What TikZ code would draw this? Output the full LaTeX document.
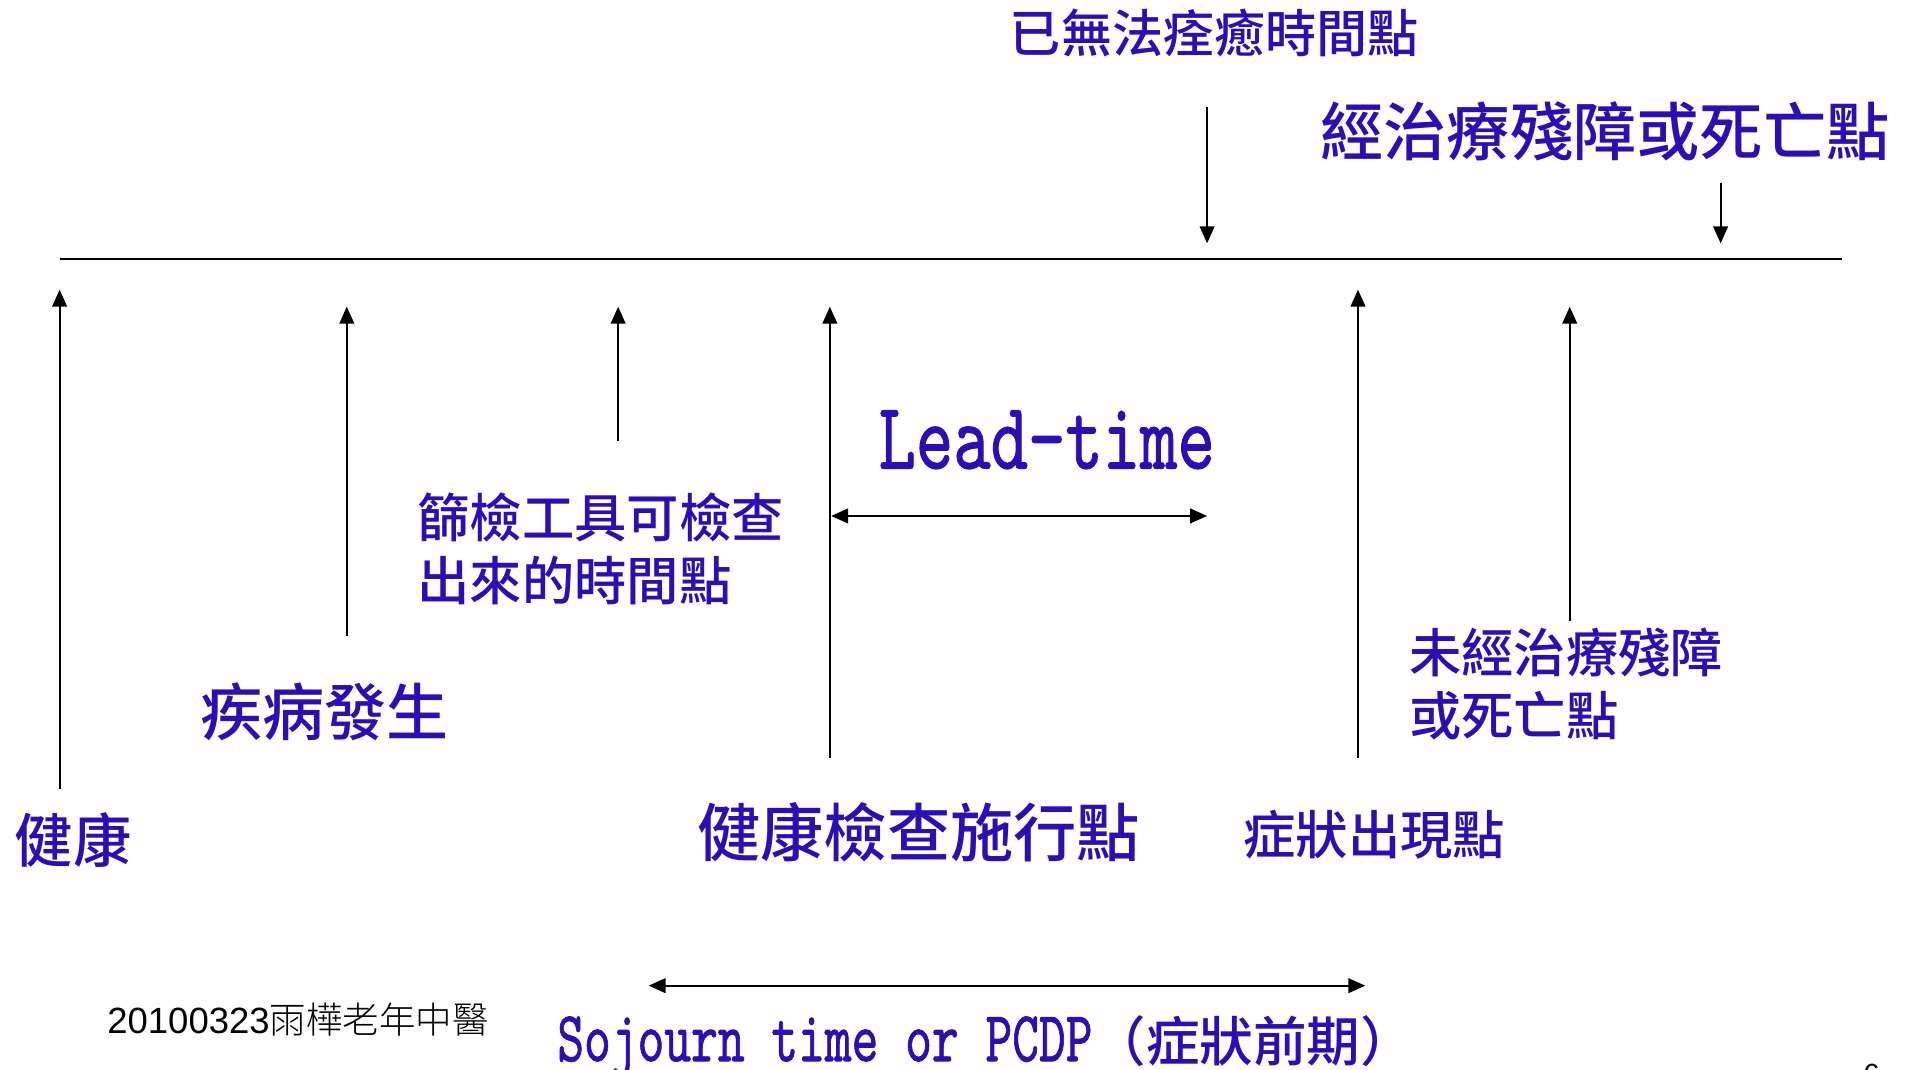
\documentclass[tikz,border=0pt]{standalone}
\usepackage{fontspec}
\usepackage{graphicx}
\usetikzlibrary{arrows.meta}
\setmainfont{Liberation Sans}
\newfontfamily\cjk{Noto Sans CJK TC}[UprightFont={* Medium},BoldFont={* Bold}]
\newfontfamily\cjkl{Noto Sans CJK TC}[UprightFont={* Light}]
\newfontfamily\lmono{lmmono10-regular.otf}[FakeBold=1.2]
\definecolor{tblue}{RGB}{40,16,180}
\tikzset{
  axisline/.style={line width=1.3pt},
  uparrow/.style={line width=1.8pt,-{Triangle[length=14pt,width=12pt]}},
  dblarrow/.style={line width=1.8pt,{Triangle[length=14pt,width=12pt]}-{Triangle[length=14pt,width=12pt]}},
  lbl/.style={inner sep=0pt,outer sep=0pt,text=tblue,anchor=west,align=left},
}
\newcommand{\cjkfs}[2]{\cjk\fontsize{#1}{#2}\selectfont}
\begin{document}
\begin{tikzpicture}[x=1pt,y=-1pt]
\useasboundingbox (0,0) rectangle (1568,879);
% main time line
\coordinate (L0) at (49,213);
\coordinate (L1) at (1514,213);
\draw[axisline] (L0) -- (L1);

% upward arrows
\coordinate (a1s) at (49,648);   \coordinate (a1e) at (49,238);
\coordinate (a2s) at (285,523);  \coordinate (a2e) at (285,252);
\coordinate (a3s) at (508,362);  \coordinate (a3e) at (508,252);
\coordinate (a4s) at (682,623);  \coordinate (a4e) at (682,252);
\coordinate (a5s) at (1116,623); \coordinate (a5e) at (1116,238);
\coordinate (a6s) at (1290,510); \coordinate (a6e) at (1290,252);
\foreach \i in {1,...,6} \draw[uparrow] (a\i s) -- (a\i e);

% downward arrows
\coordinate (d1s) at (992,88);   \coordinate (d1e) at (992,200);
\coordinate (d2s) at (1414,150); \coordinate (d2e) at (1414,200);
\draw[uparrow] (d1s) -- (d1e);
\draw[uparrow] (d2s) -- (d2e);

% double arrows
\coordinate (lt0) at (683,424); \coordinate (lt1) at (992,424);
\draw[dblarrow] (lt0) -- (lt1);
\coordinate (sj0) at (533,810); \coordinate (sj1) at (1122,810);
\draw[dblarrow] (sj0) -- (sj1);

% labels
\node[lbl,font=\cjkfs{48}{56}] (health) at (12,690) {健康};
\node[lbl,font=\cjkfs{51}{58}] (onset) at (165,585) {疾病發生};
\node[lbl,font=\cjkfs{43}{52}] (detect) at (343,451) {篩檢工具可檢查\\出來的時間點};
\node[lbl,font=\cjkfs{52}{60}] (exam) at (573,684) {健康檢查施行點};
\node[lbl,font=\cjkfs{43}{50}] (symp) at (1022,686) {症狀出現點};
\node[lbl,font=\cjkfs{43}{52}] (untreated) at (1158,562) {未經治療殘障\\或死亡點};
\node[lbl,font=\cjkfs{42}{50}] (nocure) at (830,27) {已無法痊癒時間點};
\node[lbl,font=\cjkfs{52}{60}] (treated) at (1085,108) {經治療殘障或死亡點};

\node[lbl,anchor=base west] (lead) at (722,385)
  {\scalebox{0.75}[1]{\lmono\fontsize{78}{80}\selectfont Lead-time}};
\node[lbl,anchor=base west] (soj) at (458,872)
  {\scalebox{0.71}[1]{\lmono\fontsize{59}{60}\selectfont Sojourn time or PCDP}{\cjkfs{44}{48}（症狀前期）}};

\node[inner sep=0pt,anchor=west] (foot) at (88,838)
  {\fontsize{30}{32}\selectfont 20100323{\cjkl 雨樺老年中醫}};
\node[inner sep=0pt,anchor=north] (pg) at (1538,874) {\fontsize{24}{26}\selectfont 6};
\end{tikzpicture}
\end{document}
